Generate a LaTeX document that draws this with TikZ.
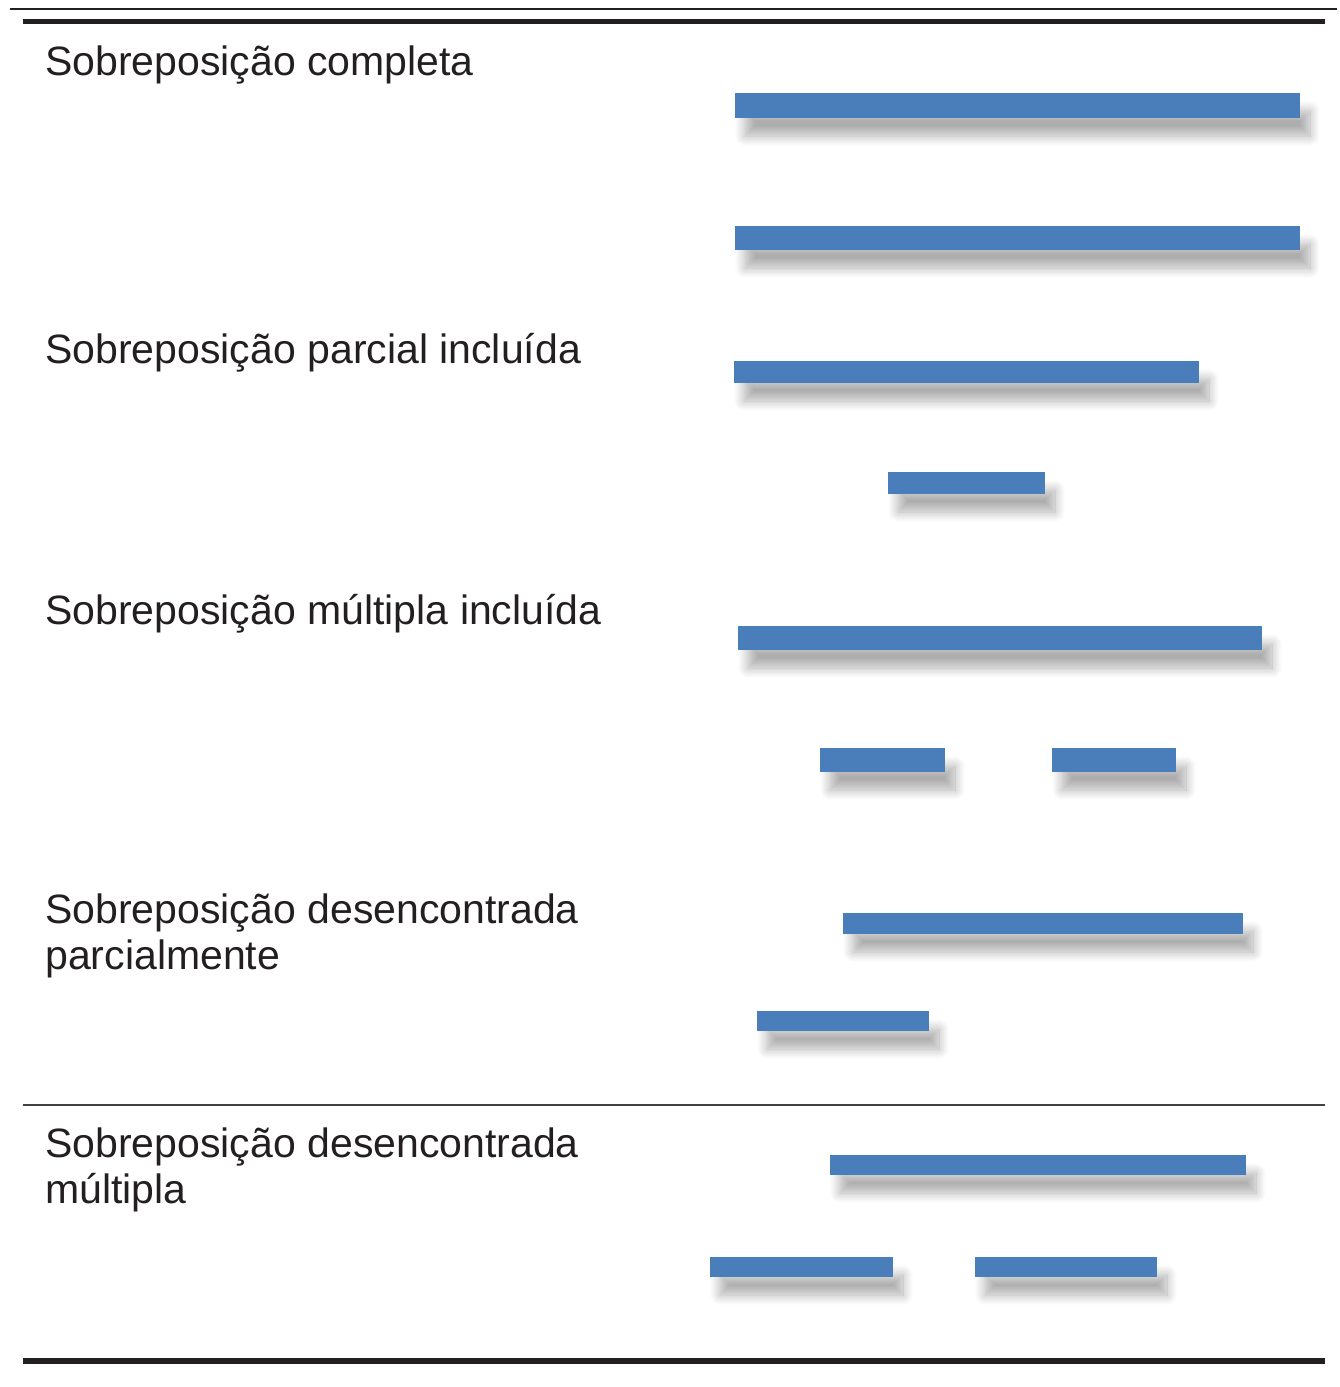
\documentclass[tikz,border=0pt]{standalone}
\usepackage{fontspec}
\setmainfont{Liberation Sans}
\usetikzlibrary{shadows.blur}

\definecolor{barblue}{HTML}{4A7EBB}
\definecolor{rulegray}{HTML}{231F20}

\begin{document}
\begin{tikzpicture}[x=0.5pt,y=-0.5pt,
    bar/.style={fill=barblue, blur shadow={shadow xshift=5pt, shadow yshift=-9pt,
        shadow blur radius=5pt, shadow blur steps=12, shadow opacity=32}},
    lbl/.style={anchor=north west, inner sep=0pt, align=left, text=rulegray,
        font=\fontsize{20.5}{23}\selectfont}]

    % fix the page size
    \useasboundingbox (0,0) rectangle (1339,1387);

    % rules of the table
    \draw[rulegray, line width=1.25pt] (10,9) -- (1337,9);
    \draw[rulegray, line width=2.5pt] (23,21.5) -- (1325,21.5);
    \draw[rulegray!85, line width=1pt] (23,1105) -- (1325,1105);
    \draw[rulegray, line width=3pt] (23,1361) -- (1325,1361);

    % labels
    \node[lbl] (completa) at (45,45) {Sobreposição completa};
    \node[lbl] (parcial) at (45,333) {Sobreposição parcial incluída};
    \node[lbl] (multipla) at (45,594) {Sobreposição múltipla incluída};
    \node[lbl] (desparcial) at (45,893) {Sobreposição desencontrada\\parcialmente};
    \node[lbl] (desmultipla) at (45,1127) {Sobreposição desencontrada\\múltipla};

    % intervals
    \foreach \xa/\xb/\ya/\yb in {735/1300/93/118, 735/1300/226/250,
        734/1199/361/383, 888/1045/472/494,
        738/1262/626/650, 820/945/748/772, 1052/1176/748/772,
        843/1243/913/934, 757/929/1011/1031,
        830/1246/1155/1175, 710/893/1257/1277, 975/1157/1257/1277}
        \fill[bar] (\xa,\ya) rectangle (\xb,\yb);
\end{tikzpicture}
\end{document}
